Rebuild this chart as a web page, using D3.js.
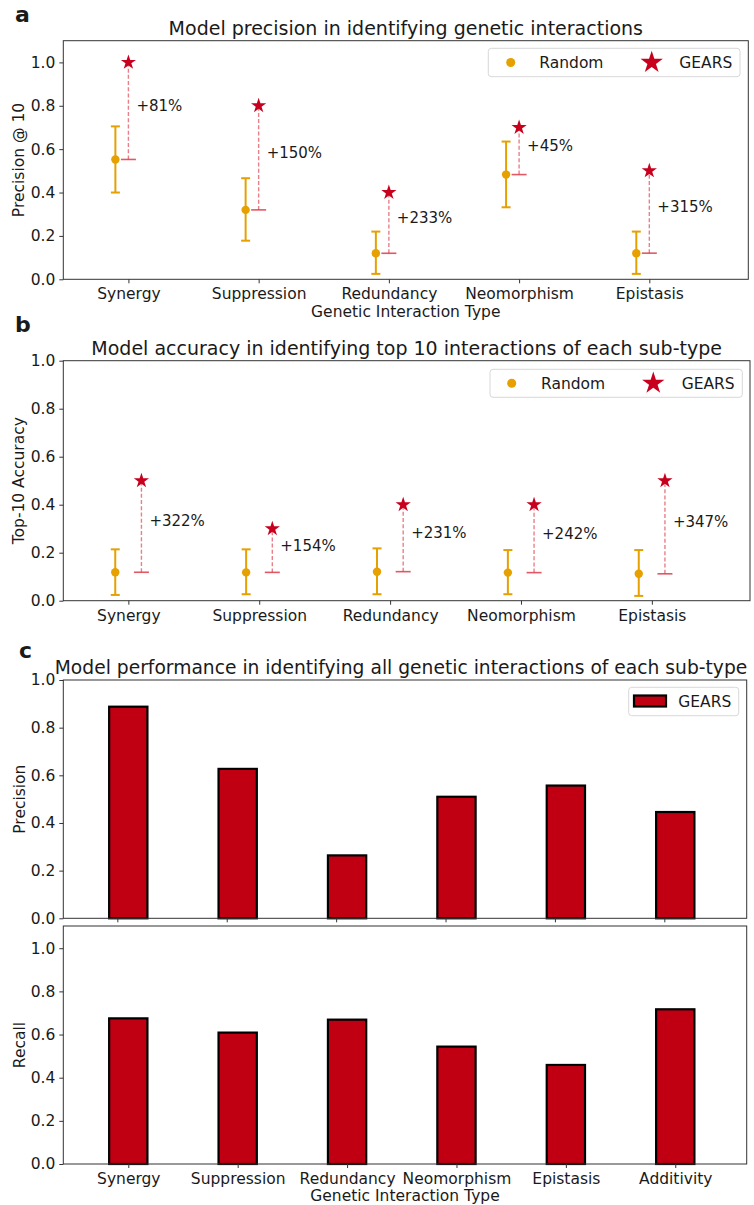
<!DOCTYPE html>
<html>
<head>
<meta charset="utf-8">
<script src="https://cdn.jsdelivr.net/npm/d3@7"></script>
<style>
  html, body { margin: 0; padding: 0; background: #fff; }
  svg { display: block; font-family: "DejaVu Sans", sans-serif; }
</style>
</head>
<body>
<svg id="fig" width="754" height="1205"></svg>
<script>
// ---- data ----
const typesTop = ["Synergy", "Suppression", "Redundancy", "Neomorphism", "Epistasis"];
const typesAll = ["Synergy", "Suppression", "Redundancy", "Neomorphism", "Epistasis", "Additivity"];

// panel a: precision @ 10
const precRandomMean = [0.5525, 0.32, 0.12, 0.4828, 0.1205];
const precRandomLow  = [0.40, 0.178, 0.025, 0.332, 0.025];
const precRandomHigh = [0.705, 0.466, 0.22, 0.635, 0.22];
const precGears      = [1.0, 0.8, 0.4, 0.7, 0.5];
const precGain       = ["+81%", "+150%", "+233%", "+45%", "+315%"];

// panel b: top-10 accuracy
const accRandomMean = [0.1185, 0.118, 0.121, 0.117, 0.112];
const accRandomLow  = [0.024, 0.027, 0.027, 0.027, 0.02];
const accRandomHigh = [0.214, 0.214, 0.218, 0.211, 0.211];
const accGears      = [0.5, 0.3, 0.4, 0.4, 0.5];
const accGain       = ["+322%", "+154%", "+231%", "+242%", "+347%"];

// panel c: precision / recall over all interactions
const allPrecision = [0.888, 0.627, 0.264, 0.510, 0.557, 0.446];
const allRecall    = [0.675, 0.609, 0.669, 0.544, 0.459, 0.717];

const yTicks = [0, 0.2, 0.4, 0.6, 0.8, 1.0];

// ---- style ----
const ORANGE = "#e6a000";
const STAR = "#c8001e";
const DASH = "#dc3c4a";
const BAR = "#c00012";
const SPINE = "#333";
const TXT = "#1a1a1a";
const FS = 15.5;
const TITLE = 19;

const svg = d3.select("#fig");

function frame(g, x0, x1, y0, y1) {
  g.append("rect").attr("x", x0).attr("y", y0).attr("width", x1 - x0).attr("height", y1 - y0)
    .attr("fill", "none").attr("stroke", SPINE).attr("stroke-width", 1);
}

function yAxis(g, y, x0) {
  const ax = g.append("g").attr("transform", `translate(${x0},0)`)
    .call(d3.axisLeft(y).tickValues(yTicks).tickFormat(d3.format(".1f")).tickSize(4).tickPadding(4));
  ax.select(".domain").remove();
  ax.selectAll("line").attr("stroke", SPINE);
  ax.selectAll("text").attr("font-size", FS).attr("fill", TXT).attr("font-family", "DejaVu Sans");
}

function xAxis(g, x, y0, vals, labels) {
  const ax = g.append("g").attr("transform", `translate(0,${y0})`)
    .call(d3.axisBottom(x).tickValues(vals).tickFormat((d, i) => labels ? labels[i] : "").tickSize(4).tickPadding(5));
  ax.select(".domain").remove();
  ax.selectAll("line").attr("stroke", SPINE);
  ax.selectAll("text").attr("font-size", FS).attr("fill", TXT).attr("font-family", "DejaVu Sans");
}

function text(g, s, x, y, opt = {}) {
  const t = g.append("text").attr("x", x).attr("y", y).text(s)
    .attr("font-size", opt.size || FS).attr("fill", TXT)
    .attr("text-anchor", opt.anchor || "middle");
  if (opt.bold) t.attr("font-weight", "bold");
  if (opt.rotate) t.attr("transform", `rotate(-90,${x},${y})`);
  return t;
}

const star = d3.symbol().type(d3.symbolStar).size(72);
const starBig = d3.symbol().type(d3.symbolStar).size(155);

function legendTwo(g, box, items) {
  g.append("rect").attr("x", box.x0).attr("y", box.y0).attr("width", box.x1 - box.x0).attr("height", box.y1 - box.y0)
    .attr("rx", 3).attr("fill", "#fff").attr("fill-opacity", 0.8).attr("stroke", "#d8d8d8");
  const cy = (box.y0 + box.y1) / 2;
  g.append("circle").attr("cx", items.circleX).attr("cy", cy).attr("r", 4.5).attr("fill", ORANGE);
  text(g, "Random", items.randomX, cy + 5.5, { anchor: "start" });
  g.append("path").attr("d", starBig()).attr("transform", `translate(${items.starX},${cy})`).attr("fill", STAR);
  text(g, "GEARS", items.gearsX, cy + 5.5, { anchor: "start" });
}

// dot-and-star comparison panel
function comparePanel(cfg) {
  const g = svg.append("g");
  const x = d3.scaleLinear().domain(cfg.xDomain).range([cfg.x0, cfg.x1]);
  const y = d3.scaleLinear().domain(cfg.yDomain).range([cfg.y1, cfg.y0]);
  const idx = d3.range(cfg.cats.length);

  // random baseline error bars
  idx.forEach(i => {
    const cx = x(i + cfg.randomShift);
    g.append("line").attr("x1", cx).attr("x2", cx).attr("y1", y(cfg.low[i])).attr("y2", y(cfg.high[i]))
      .attr("stroke", ORANGE).attr("stroke-width", 2);
    [cfg.low[i], cfg.high[i]].forEach(v => {
      g.append("line").attr("x1", cx - 4.5).attr("x2", cx + 4.5).attr("y1", y(v)).attr("y2", y(v))
        .attr("stroke", ORANGE).attr("stroke-width", 2);
    });
    g.append("circle").attr("cx", cx).attr("cy", y(cfg.mean[i])).attr("r", 4.2).attr("fill", ORANGE);
  });

  // improvement from baseline to GEARS
  idx.forEach(i => {
    const cx = x(i + cfg.gearsShift);
    g.append("line").attr("x1", cx).attr("x2", cx).attr("y1", y(cfg.mean[i])).attr("y2", y(cfg.gears[i]))
      .attr("stroke", DASH).attr("stroke-opacity", 0.65).attr("stroke-width", 1.4)
      .attr("stroke-dasharray", "4,2.2");
    g.append("line").attr("x1", cx - 7.5).attr("x2", cx + 7.5).attr("y1", y(cfg.mean[i])).attr("y2", y(cfg.mean[i]))
      .attr("stroke", DASH).attr("stroke-opacity", 0.85).attr("stroke-width", 1.6);
    g.append("path").attr("d", star()).attr("transform", `translate(${cx},${y(cfg.gears[i])})`).attr("fill", STAR);
    text(g, cfg.gain[i], cx + 8, y((cfg.mean[i] + cfg.gears[i]) / 2), { anchor: "start", size: 15 });
  });

  frame(g, cfg.x0, cfg.x1, cfg.y0, cfg.y1);
  yAxis(g, y, cfg.x0);
  xAxis(g, x, cfg.y1, idx, cfg.cats);
  text(g, cfg.title, (cfg.x0 + cfg.x1) / 2, cfg.titleY, { size: TITLE });
  text(g, cfg.ylabel, 24, (cfg.y0 + cfg.y1) / 2, { rotate: true });
  if (cfg.xlabel) text(g, cfg.xlabel, (cfg.x0 + cfg.x1) / 2, cfg.y1 + 38);
  text(g, cfg.tag, cfg.tagX, cfg.tagY, { size: 22, bold: true, anchor: "start" });
  legendTwo(g, cfg.legend, cfg.legendItems);
}

comparePanel({
  cats: typesTop, mean: precRandomMean, low: precRandomLow, high: precRandomHigh,
  gears: precGears, gain: precGain,
  x0: 63.3, x1: 748.3, y0: 40.7, y1: 279.3,
  xDomain: [-0.5, 4.76], yDomain: [0, 1.1],
  randomShift: -0.1, gearsShift: 0,
  title: "Model precision in identifying genetic interactions", titleY: 35,
  ylabel: "Precision @ 10", xlabel: "Genetic Interaction Type",
  tag: "a", tagX: 15, tagY: 22,
  legend: { x0: 488.3, x1: 740, y0: 48.3, y1: 76.7 },
  legendItems: { circleX: 510.7, randomX: 539.3, starX: 651.7, gearsX: 679.3 }
});

comparePanel({
  cats: typesTop, mean: accRandomMean, low: accRandomLow, high: accRandomHigh,
  gears: accGears, gain: accGain,
  x0: 63.3, x1: 750, y0: 360.7, y1: 600.7,
  xDomain: [-0.497, 4.75], yDomain: [0, 1],
  randomShift: -0.1, gearsShift: 0.1,
  title: "Model accuracy in identifying top 10 interactions of each sub-type", titleY: 355,
  ylabel: "Top-10 Accuracy", xlabel: null,
  tag: "b", tagX: 15, tagY: 332,
  legend: { x0: 490, x1: 742.3, y0: 369.3, y1: 397.3 },
  legendItems: { circleX: 511.7, randomX: 541, starX: 653.3, gearsX: 681.7 }
});

// bar panels
const barShift = 0.1, barWidth = 0.35;
function barPanel(cfg) {
  const g = svg.append("g");
  const x = d3.scaleLinear().domain([-0.494, 5.753]).range([63.3, 746.7]);
  const y = d3.scaleLinear().domain(cfg.yDomain).range([cfg.y1, cfg.y0]);
  const idx = d3.range(typesAll.length);
  g.selectAll("rect.bar").data(cfg.values).join("rect").attr("class", "bar")
    .attr("x", (d, i) => x(i + barShift - barWidth / 2))
    .attr("width", x(barWidth) - x(0))
    .attr("y", d => y(d))
    .attr("height", d => y(0) - y(d))
    .attr("fill", BAR).attr("stroke", "#000").attr("stroke-width", 2.2);
  frame(g, 63.3, 746.7, cfg.y0, cfg.y1);
  yAxis(g, y, 63.3);
  if (cfg.labels) {
    xAxis(g, x, cfg.y1, idx.map(i => i + barShift), typesAll);
  } else {
    xAxis(g, x, cfg.y1, idx, null);
  }
  text(g, cfg.ylabel, 25, (cfg.y0 + cfg.y1) / 2, { rotate: true });
  return g;
}

const gp = barPanel({ values: allPrecision, yDomain: [0, 1], y0: 680, y1: 918.3, ylabel: "Precision", labels: false });
text(gp, "Model performance in identifying all genetic interactions of each sub-type", 401, 674, { size: 18.7 });
text(gp, "c", 19, 658, { size: 22, bold: true, anchor: "start" });
// legend
gp.append("rect").attr("x", 628.7).attr("y", 687.3).attr("width", 110).attr("height", 28.4)
  .attr("rx", 3).attr("fill", "#fff").attr("fill-opacity", 0.8).attr("stroke", "#d8d8d8");
gp.append("rect").attr("x", 634).attr("y", 695.5).attr("width", 32).attr("height", 11)
  .attr("fill", BAR).attr("stroke", "#000").attr("stroke-width", 2.2);
text(gp, "GEARS", 678.3, 707, { anchor: "start" });

const gr = barPanel({ values: allRecall, yDomain: [0, 1.103], y0: 926, y1: 1164, ylabel: "Recall", labels: true });
text(gr, "Genetic Interaction Type", 405, 1201);
</script>
</body>
</html>
